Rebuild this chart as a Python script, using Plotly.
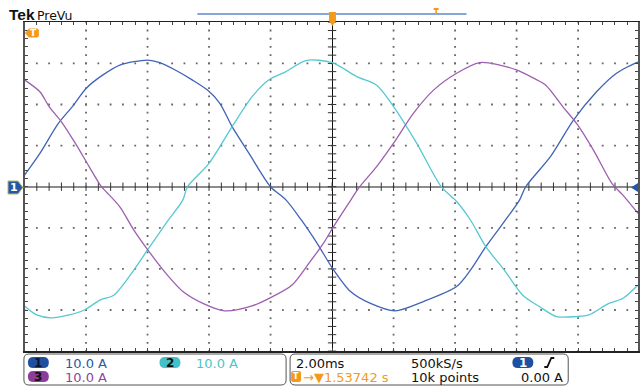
import numpy as np
import plotly.graph_objects as go

W, H = 640, 387

# ---------------- data (read from the screen shot) ----------------
# time in ms relative to trigger, current in A
ch1_t = [-10.0, -9.5, -8.9, -8.4, -8.0, -7.45, -6.9, -6.0, -5.6, -5.1, -4.55, -4.05,
         -3.65, -3.25, -2.7, -2.0, -1.5, -1.0, -0.45, 0.0, 0.6, 1.25, 2.05, 2.95,
         4.05, 4.5, 5.0, 5.6, 6.1, 6.3, 7.1, 7.85, 8.6, 9.25, 9.9, 10.0]
ch1_i = [2.8, 8.1, 15.4, 19.9, 23.9, 27.2, 29.6, 30.8, 30.2, 28.4, 26.0, 23.5,
         20.3, 14.6, 8.1, 0.0, -3.2, -8.1, -14.2, -19.7, -25.5, -28.4, -30.2, -28.0,
         -24.3, -20.3, -14.6, -8.5, -3.2, 0.0, 7.3, 16.2, 23.1, 27.6, 30.2, 30.4]

ch2_t = [-10.0, -9.6, -9.15, -8.55, -8.05, -7.55, -7.1, -6.6, -6.0, -5.4, -4.85, -4.7,
         -4.0, -3.25, -2.6, -2.05, -1.5, -0.85, 0.0, 0.8, 1.45, 2.0, 2.75, 3.55,
         4.05, 4.5, 5.0, 5.6, 6.2, 6.75, 7.3, 7.95, 8.35, 9.0, 9.45, 9.95]
ch2_i = [-29.0, -31.2, -31.9, -31.2, -30.0, -27.6, -26.4, -21.9, -15.4, -8.9, -3.2, 0.0,
         5.7, 14.6, 21.9, 26.0, 28.0, 30.7, 30.2, 26.8, 24.7, 19.5, 10.6, 0.0,
         -3.6, -8.1, -14.6, -20.3, -26.4, -29.2, -31.6, -31.6, -31.2, -28.4, -27.2, -23.9]

ch3_t = [-10.0, -9.5, -9.2, -8.8, -8.35, -7.9, -7.5, -7.35, -6.9, -6.45, -5.95, -5.4,
         -4.85, -4.2, -3.5, -2.6, -1.95, -1.3, -0.75, -0.25, 0.05, 0.5, 0.9, 1.45,
         2.0, 2.65, 3.3, 4.05, 4.8, 5.45, 6.0, 6.55, 6.95, 7.5, 7.95, 8.5, 9.1,
         9.45, 9.95]
ch3_i = [26.0, 23.1, 19.5, 15.8, 10.6, 4.9, 0.0, -1.2, -4.9, -10.5, -15.8, -21.1,
         -25.5, -28.4, -30.2, -29.0, -26.8, -23.9, -18.6, -13.4, -9.7, -4.5, 0.0, 4.9,
         10.6, 17.9, 23.5, 27.6, 30.2, 29.6, 28.4, 26.4, 24.7, 19.5, 15.4, 8.9, 0.8,
         -2.0, -6.5]

ch_names = ["1", "2", "3"]
ch_scales = ["10.0 A", "10.0 A", "10.0 A"]
timebase = "2.00ms"
sample_rate = "500kS/s"
record_len = "10k points"
trig_pos = "1.53742 s"
trig_level = "0.00 A"
trig_src = "1"

# ---------------- geometry / style ----------------
BLUE, CYAN, PURPLE = "#3f63b5", "#55c8d2", "#9e5fae"
ORANGE = "#f39a1e"
FONT = "DejaVu Sans"

L, DIVX = 24.6, 61.7
CY, DIVY = 186.7, 41.1
TOP, BOT = CY - 4 * DIVY, CY + 4 * DIVY


def X(px):
    return px / W


def Y(py):
    return 1 - py / H


def rrect(x0, y0, x1, y1, r):
    return (f"M {X(x0 + r)},{Y(y0)} L {X(x1 - r)},{Y(y0)} Q {X(x1)},{Y(y0)} {X(x1)},{Y(y0 + r)} "
            f"L {X(x1)},{Y(y1 - r)} Q {X(x1)},{Y(y1)} {X(x1 - r)},{Y(y1)} "
            f"L {X(x0 + r)},{Y(y1)} Q {X(x0)},{Y(y1)} {X(x0)},{Y(y1 - r)} "
            f"L {X(x0)},{Y(y0 + r)} Q {X(x0)},{Y(y0)} {X(x0 + r)},{Y(y0)} Z")


def poly(pts):
    s = "M " + " L ".join(f"{X(a)},{Y(b)}" for a, b in pts) + " Z"
    return s


fig = go.Figure()

# graticule dots
gx, gy = [], []
for t in np.arange(-8, 9, 2):
    if abs(t) < 1e-9:
        continue
    for v in np.arange(-40, 40.01, 2):
        gx.append(t); gy.append(v)
for v in [-30, -20, -10, 10, 20, 30]:
    for t in np.arange(-10, 10.01, 0.4):
        gx.append(t); gy.append(v)
fig.add_trace(go.Scatter(x=gx, y=gy, mode="markers", hoverinfo="skip",
                         marker=dict(symbol="square", size=1.8, color="#666666",
                                     line=dict(width=0))))

# crosshair ticks
tx = list(np.arange(-10, 10.01, 0.4))
fig.add_trace(go.Scatter(x=tx, y=[0] * len(tx), mode="markers", hoverinfo="skip",
                         marker=dict(symbol="line-ns", size=6,
                                     line=dict(width=1, color="#333333"))))
ty = list(np.arange(-40, 40.01, 2))
fig.add_trace(go.Scatter(x=[0] * len(ty), y=ty, mode="markers", hoverinfo="skip",
                         marker=dict(symbol="line-ew", size=6,
                                     line=dict(width=1, color="#333333"))))

for t, i, c in [(ch1_t, ch1_i, BLUE), (ch2_t, ch2_i, CYAN), (ch3_t, ch3_i, PURPLE)]:
    fig.add_trace(go.Scatter(x=t, y=i, mode="lines", hoverinfo="skip",
                             line=dict(color=c, width=1.3, shape="spline", smoothing=0.8)))

xr = [-10, -10 + (W - L) / DIVX * 2]
fig.update_layout(
    width=W, height=H, autosize=False,
    margin=dict(l=0, r=0, t=0, b=0),
    paper_bgcolor="white", plot_bgcolor="white",
    showlegend=False,
    xaxis=dict(domain=[L / W, 1], range=xr, showgrid=False, zeroline=True,
               zerolinecolor="#111111", zerolinewidth=1,
               showline=True, linecolor="#222222", linewidth=1.5, mirror="ticks",
               ticks="inside", ticklen=3, tickcolor="#444444", tick0=-10, dtick=0.4,
               showticklabels=False, fixedrange=True),
    yaxis=dict(domain=[(H - BOT) / H, (H - TOP) / H], range=[-40, 40], showgrid=False,
               zeroline=True, zerolinecolor="#8c8c8c", zerolinewidth=2,
               showline=True, linecolor="#555555", linewidth=2, mirror="ticks",
               ticks="inside", ticklen=3, tickcolor="#444444", tick0=-40, dtick=2,
               showticklabels=False, fixedrange=True),
)

shapes = []
# info boxes
shapes.append(dict(type="path", path=rrect(24, 354, 287, 385, 5), xref="paper", yref="paper",
                   line=dict(color="#555555", width=1), fillcolor="white"))
shapes.append(dict(type="path", path=rrect(291, 354, 570, 385, 5), xref="paper", yref="paper",
                   line=dict(color="#555555", width=1), fillcolor="white"))
# channel pills
for (x0, y0, col) in [(28, 357, "#1f4f9f"), (160, 357, "#45bfc8"), (28, 371, "#8b3d99"),
                      (514, 357, "#1f4f9f")]:
    shapes.append(dict(type="path", path=rrect(x0, y0, x0 + 21, y0 + 11, 5.5),
                       xref="paper", yref="paper", line=dict(width=0), fillcolor=col))
# orange T in box 2
shapes.append(dict(type="path", path=rrect(292, 371, 302, 382, 2), xref="paper", yref="paper",
                   line=dict(width=0), fillcolor=ORANGE))
# rising edge icon
shapes.append(dict(type="path",
                   path=f"M {X(546)},{Y(367)} L {X(549)},{Y(367)} L {X(553)},{Y(358)} L {X(556)},{Y(358)}",
                   xref="paper", yref="paper", line=dict(color="#111111", width=1.8)))
# record view bar
shapes.append(dict(type="line", x0=X(198), x1=X(468), y0=Y(14), y1=Y(14), xref="paper",
                   yref="paper", line=dict(color="#86a6d8", width=2)))
# trigger position marker on top
shapes.append(dict(type="path", path=poly([(330, 12), (337, 12), (337, 21), (333.5, 26), (330, 21)]),
                   xref="paper", yref="paper", line=dict(width=0), fillcolor=ORANGE))
shapes.append(dict(type="path",
                   path=poly([(435, 8), (440, 8), (440, 10), (438.3, 10), (438.3, 14), (436.7, 14),
                              (436.7, 10), (435, 10)]),
                   xref="paper", yref="paper", line=dict(width=0), fillcolor=ORANGE))
# trigger level marker (left)
shapes.append(dict(type="path",
                   path=(f"M {X(25)},{Y(33)} L {X(29)},{Y(28.5)} L {X(37)},{Y(28.5)} "
                         f"Q {X(39)},{Y(28.5)} {X(39)},{Y(30.5)} L {X(39)},{Y(35.5)} "
                         f"Q {X(39)},{Y(37.5)} {X(37)},{Y(37.5)} L {X(29)},{Y(37.5)} Z"),
                   xref="paper", yref="paper", line=dict(width=0), fillcolor=ORANGE))
# channel 1 ground marker
shapes.append(dict(type="path", path=poly([(8, 181), (18, 181), (23, 187.5), (18, 194), (8, 194)]),
                   xref="paper", yref="paper", line=dict(color="#bdb870", width=1),
                   fillcolor="#2457a6"))
# right edge arrow
shapes.append(dict(type="path", path=poly([(640, 183), (633, 187.5), (640, 192)]),
                   xref="paper", yref="paper", line=dict(width=0), fillcolor="#2457a6"))
fig.update_layout(shapes=shapes)


def txt(s, x, y, color="#111111", size=13, anchor="left", family=FONT, bold=False):
    if bold:
        s = f"<b>{s}</b>"
    fig.add_annotation(text=s, x=X(x), y=Y(y), xref="paper", yref="paper", showarrow=False,
                       xanchor=anchor, yanchor="middle",
                       font=dict(family=family, size=size, color=color))


txt("Tek", 7, 15, size=15.5, family="Liberation Sans", bold=True)
txt("PreVu", 35, 15.5, size=12.5)
txt("T", 34, 33, color="white", size=9, anchor="center", bold=True)
txt("1", 14, 187.5, color="white", size=11, anchor="center", bold=True)

txt(ch_names[0], 38.5, 362.5, color="#111133", size=12, anchor="center", bold=True)
txt(ch_names[1], 170.5, 362.5, color="#111111", size=12, anchor="center", bold=True)
txt(ch_names[2], 38.5, 376.5, color="#111111", size=12, anchor="center", bold=True)
txt(trig_src, 524.5, 362.5, color="white", size=12, anchor="center", bold=True)

txt(ch_scales[0], 63, 363, color="#2a58a8")
txt(ch_scales[1], 195, 363, color="#4cc4cc")
txt(ch_scales[2], 63, 377, color="#8e44a0")

txt(timebase, 295, 363)
txt(sample_rate, 410, 363)
txt(record_len, 410, 377)
txt(trig_level, 521, 377)
txt("T", 297, 376.5, color="white", size=8, anchor="center", bold=True)
txt("→▼" + trig_pos, 302, 377, color=ORANGE)

fig.write_html("out.html", config={"displayModeBar": False, "staticPlot": True},
               post_script="document.body.style.margin='0';document.body.style.overflow='hidden';")
